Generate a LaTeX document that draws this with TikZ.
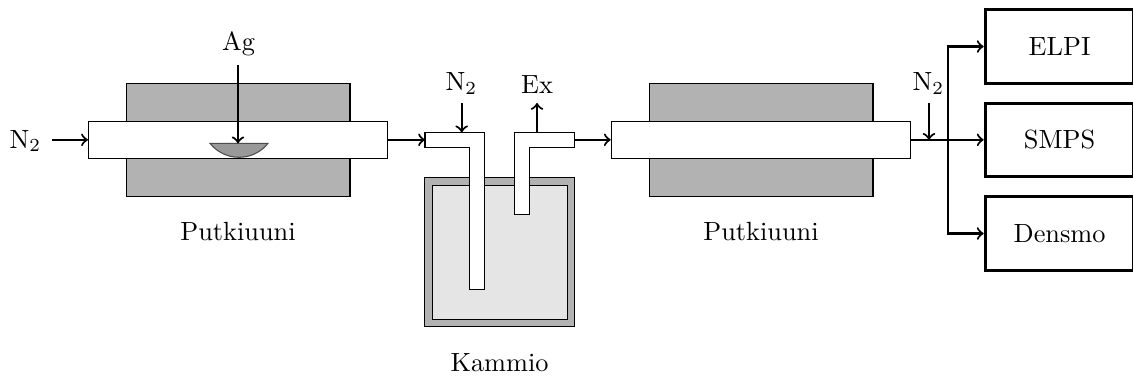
\documentclass[tikz,border=0pt]{standalone}
\usepackage{amsmath}
\usepackage{tikz}
\usetikzlibrary{positioning}
\usetikzlibrary{calc}

\begin{document}
\begin{tikzpicture}[
		x=0.38pt, y=-0.38pt,
		furnace/.style={
			shape=rectangle,
			draw,
			fill=black!30,
			inner sep=0pt,
			minimum width=85.1pt,
			minimum height=42.6pt
		},
		tube/.style={
			shape=rectangle,
			draw,
			fill=white,
			inner sep=0pt,
			minimum width=113.8pt,
			minimum height=14.1pt
		},
		device/.style={
			shape=rectangle,
			draw,
			line width=1.2pt,
			fill=white,
			inner sep=0pt,
			minimum width=56.5pt,
			minimum height=27.9pt
		},
		pipe/.style={draw, fill=white},
		flow/.style={->, line width=0.8pt},
		label/.style={inner sep=0pt}
		]
		\useasboundingbox (0,0) rectangle (1133,378);
		% first furnace
		\node [furnace] (furnaceA) at (238,140) {};
		\node [tube] (tubeA) at (238.2,139.8) {};
		\draw [draw=black!70, fill=black!40] (210,143.3) arc [start angle=218.4, end angle=321.6, x radius=37, y radius=-37] -- cycle;
		\coordinate (boat) at (238,143.3);
		\node [label] (ag) at (238.5,43.5) {Ag};
		\coordinate (agstart) at (238,65);
		\draw [flow] (agstart) -- (boat);
		\node [label] (nleft) at (25.5,141) {N$_2$};
		\draw [flow] (52,139.8) coordinate (nleftstart) -- (tubeA.west);
		\node [label] (labelA) at (238,231) {Putkiuuni};
		% chamber and tees
		\node [furnace, minimum width=56.8pt, minimum height=56.6pt] (chamber) at (499.7,252.2) {};
		\node [furnace, fill=black!10, minimum width=51.2pt, minimum height=51pt] (inner) at (499.7,252.2) {};
		\draw [pipe] (425,132.3) -- (484.7,132.3) -- (484.7,289.3) -- (469.7,289.3) -- (469.7,147.7) -- (425,147.7) -- cycle;
		\draw [pipe] (574.5,132.3) -- (514.7,132.3) -- (514.7,214.7) -- (529.3,214.7) -- (529.3,147.7) -- (574.5,147.7) -- cycle;
		\coordinate (teeAin) at (425,139.8);
		\coordinate (teeAtop) at (461.7,132.3);
		\coordinate (teeBout) at (574.5,139.8);
		\coordinate (teeBtop) at (537,132.3);
		\draw [flow] (tubeA.east) -- (teeAin);
		\node [label] (nmid) at (461.5,83.5) {N$_2$};
		\coordinate (nmidstart) at (461.7,103);
		\draw [flow] (nmidstart) -- (teeAtop);
		\node [label] (ex) at (537,84.5) {Ex};
		\coordinate (exend) at (537,103);
		\draw [flow] (teeBtop) -- (exend);
		\node [label] (labelC) at (499.5,363) {Kammio};
		% second furnace
		\node [furnace] (furnaceB) at (761,140) {};
		\node [tube] (tubeB) at (761,139.8) {};
		\draw [flow] (teeBout) -- (tubeB.west);
		\node [label] (labelB) at (761,231) {Putkiuuni};
		% measurement devices
		\node [device] (elpi) at (1059.6,46.5) {ELPI};
		\node [device] (smps) at (1059.6,139.8) {SMPS};
		\node [device] (densmo) at (1059.6,233.5) {Densmo};
		\coordinate (branch) at (947.7,139.8);
		\coordinate (mix) at (929,139.8);
		\draw [flow] (tubeB.east) -- (smps.west);
		\draw [flow] (branch) |- (elpi.west);
		\draw [flow] (branch) |- (densmo.west);
		\node [label] (nright) at (928.5,83.5) {N$_2$};
		\coordinate (nrightstart) at (929,103);
		\draw [flow] (nrightstart) -- (mix);
	\end{tikzpicture}
\end{document}
